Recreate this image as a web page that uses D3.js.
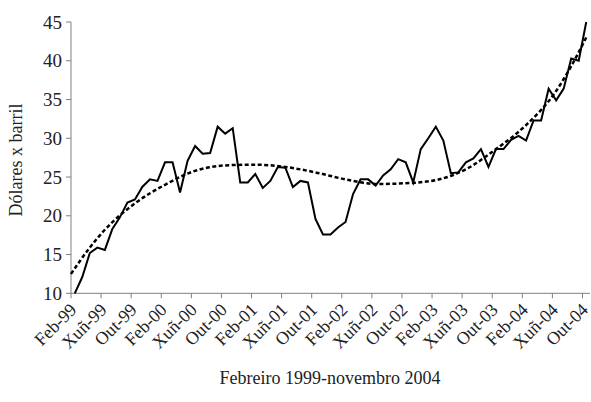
<!DOCTYPE html>
<html>
<head>
<meta charset="utf-8">
<script src="https://cdn.jsdelivr.net/npm/d3@7"></script>
<style>
  body { margin: 0; background: #fff; }
  svg { display: block; }
</style>
</head>
<body>
<svg id="chart" width="591" height="402"></svg>
<script>
// monthly categories, Feb-99 .. Out-04 (Galician month names)
const months = [
  'Feb-99','Mar-99','Abr-99','Mai-99','Xuñ-99','Xul-99','Ago-99','Set-99','Out-99','Nov-99','Dec-99','Xan-00',
  'Feb-00','Mar-00','Abr-00','Mai-00','Xuñ-00','Xul-00','Ago-00','Set-00','Out-00','Nov-00','Dec-00','Xan-01',
  'Feb-01','Mar-01','Abr-01','Mai-01','Xuñ-01','Xul-01','Ago-01','Set-01','Out-01','Nov-01','Dec-01','Xan-02',
  'Feb-02','Mar-02','Abr-02','Mai-02','Xuñ-02','Xul-02','Ago-02','Set-02','Out-02','Nov-02','Dec-02','Xan-03',
  'Feb-03','Mar-03','Abr-03','Mai-03','Xuñ-03','Xul-03','Ago-03','Set-03','Out-03','Nov-03','Dec-03','Xan-04',
  'Feb-04','Mar-04','Abr-04','Mai-04','Xuñ-04','Xul-04','Ago-04','Set-04','Out-04'
];

// price in dollars per barrel
const prices = [
  10.0, 12.1, 15.2, 15.9, 15.6, 18.3, 19.8, 21.7, 22.1, 23.75, 24.7, 24.5,
  26.9, 26.9, 23.0, 27.1, 29.0, 28.0, 28.1, 31.5, 30.6, 31.3, 24.3, 24.3,
  25.4, 23.6, 24.5, 26.3, 26.2, 23.7, 24.5, 24.3, 19.6, 17.6, 17.6, 18.5,
  19.2, 22.8, 24.7, 24.7, 23.9, 25.2, 26.0, 27.3, 26.9, 24.3, 28.6, 30.0,
  31.5, 29.7, 25.5, 25.6, 26.9, 27.4, 28.6, 26.3, 28.6, 28.6, 29.8, 30.3,
  29.7, 32.3, 32.3, 36.4, 34.9, 36.4, 40.3, 40.0, 45.0
];

const trendMonths = [-0.5, 2, 4, 8, 12, 16, 20, 24, 28, 32, 36, 40, 44, 48, 52, 56, 60, 64, 66, 68];
const trendValues = [12.5, 15.9, 18.2, 21.6, 24.0, 25.8, 26.5, 26.6, 26.3, 25.6, 24.7, 24.1, 24.2, 24.6, 26.0, 28.6, 31.7, 36.1, 39.3, 43.0];

const yTicks = [10, 15, 20, 25, 30, 35, 40, 45];
const xTickLabels = ['Feb-99','Xuñ-99','Out-99','Feb-00','Xuñ-00','Out-00','Feb-01','Xuñ-01','Out-01',
  'Feb-02','Xuñ-02','Out-02','Feb-03','Xuñ-03','Out-03','Feb-04','Xuñ-04','Out-04'];

const svg = d3.select('#chart');
const plotLeft = 71, plotRight = 590, plotTop = 22, plotBottom = 293.3;
const serif = '"Liberation Serif", "Times New Roman", serif';
const textColor = '#222';

// categories sit between tick marks
const x = d3.scaleLinear().domain([0, months.length]).range([plotLeft, plotRight]);
const y = d3.scaleLinear().domain([10, 45]).range([plotBottom, plotTop]);
const cx = i => x(i + 0.5);

const axisColor = '#808080';

// y axis
svg.append('line')
   .attr('x1', plotLeft).attr('x2', plotLeft)
   .attr('y1', plotTop).attr('y2', plotBottom)
   .attr('stroke', axisColor).attr('stroke-width', 1);

yTicks.forEach(t => {
  svg.append('line')
     .attr('x1', plotLeft - 5).attr('x2', plotLeft)
     .attr('y1', y(t)).attr('y2', y(t))
     .attr('stroke', axisColor);
  svg.append('text')
     .attr('x', plotLeft - 9)
     .attr('y', y(t))
     .attr('dy', '0.35em')
     .attr('text-anchor', 'end')
     .attr('font-family', serif)
     .attr('font-size', '19px')
     .attr('fill', textColor)
     .text(t);
});

// x axis
svg.append('line')
   .attr('x1', plotLeft).attr('x2', plotRight)
   .attr('y1', plotBottom).attr('y2', plotBottom)
   .attr('stroke', axisColor).attr('stroke-width', 1);

xTickLabels.forEach(lbl => {
  const i = months.indexOf(lbl);
  svg.append('line')
     .attr('x1', x(i)).attr('x2', x(i))
     .attr('y1', plotBottom).attr('y2', plotBottom + 5)
     .attr('stroke', axisColor);
  const px = cx(i) - 1.5, py = plotBottom + 13;
  svg.append('text')
     .attr('transform', `translate(${px},${py}) rotate(-45)`)
     .attr('text-anchor', 'end')
     .attr('dy', '0.35em')
     .attr('font-family', serif)
     .attr('font-size', '18px')
     .attr('fill', textColor)
     .text(lbl);
});

// trend line (dotted)
const trendLine = d3.line()
   .x(d => cx(d[0]))
   .y(d => y(d[1]))
   .curve(d3.curveMonotoneX);

svg.append('path')
   .attr('d', trendLine(trendMonths.map((m, k) => [m, trendValues[k]])))
   .attr('fill', 'none')
   .attr('stroke', '#000')
   .attr('stroke-width', 2.5)
   .attr('stroke-dasharray', '4,2.5');

// price line
const priceLine = d3.line()
   .x((d, i) => cx(i))
   .y(d => y(d));

svg.append('path')
   .attr('d', priceLine(prices))
   .attr('fill', 'none')
   .attr('stroke', '#000')
   .attr('stroke-width', 2)
   .attr('stroke-linejoin', 'miter');

// axis titles
svg.append('text')
   .attr('transform', `translate(22,160) rotate(-90)`)
   .attr('text-anchor', 'middle')
   .attr('font-family', serif)
   .attr('font-size', '18px')
   .attr('fill', textColor)
   .text('Dólares x barril');

svg.append('text')
   .attr('x', 330)
   .attr('y', 384)
   .attr('text-anchor', 'middle')
   .attr('font-family', serif)
   .attr('font-size', '18px')
   .attr('fill', textColor)
   .text('Febreiro 1999-novembro 2004');
</script>
</body>
</html>
